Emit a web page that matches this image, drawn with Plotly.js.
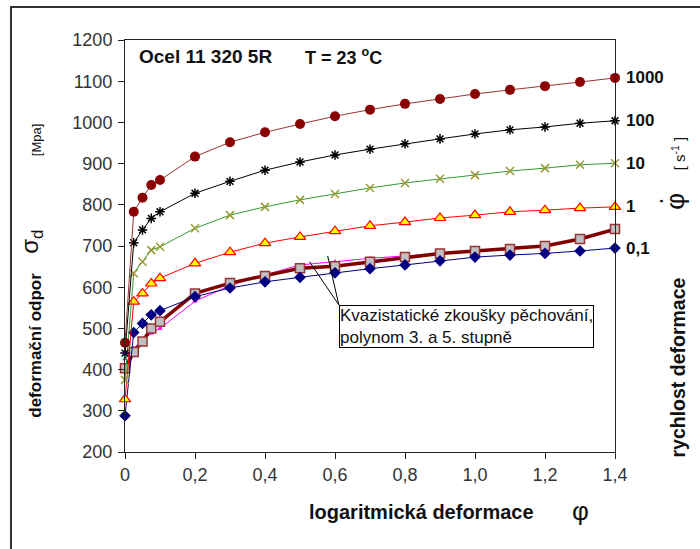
<!DOCTYPE html>
<html>
<head>
<meta charset="utf-8">
<script src="https://cdn.plot.ly/plotly-3.0.1.min.js"></script>
<style>
  html, body { margin: 0; padding: 0; background: #fff; }
  #chart { width: 700px; height: 549px; }
</style>
</head>
<body>
<div id="chart"></div>
<script>
// logarithmic strain (x) shared by all series
const phi = [0, 0.025, 0.05, 0.075, 0.1, 0.2, 0.3, 0.4, 0.5, 0.6, 0.7, 0.8, 0.9, 1.0, 1.1, 1.2, 1.3, 1.4];

// flow stress [MPa] for each strain rate [1/s]
const rate1000 = [465, 783, 817, 848, 860, 917, 952, 976, 996, 1015, 1031, 1045, 1057, 1069, 1079, 1088, 1098, 1108];
const rate100  = [440, 708, 739, 767, 783, 828, 857, 884, 904, 921, 935, 948, 960, 972, 982, 989, 998, 1004];
const rate10   = [375, 634, 662, 690, 698, 743, 775, 795, 812, 826, 841, 853, 863, 872, 882, 889, 897, 901];
const rate1    = [328, 565, 585, 609, 622, 658, 685, 707, 722, 736, 749, 758, 768, 775, 783, 787, 792, 795];
const rate01   = [288, 490, 512, 533, 543, 577, 598, 613, 624, 635, 645, 654, 664, 673, 678, 682, 688, 695];

// quasi-static upsetting tests and polynomial fit
const quasiStatic = [403, 443, 468, 500, 516, 585, 610, 627, 646, 651, 662, 673, 682, 688, 693, 700, 717, 741];
const polyFit     = [426, 452, 472, 488, 500, 566, 604, 630, 654, 662, 670, 676, 682, 687, 692, 700, 716, 738];

const rateLabels = ['1000', '100', '10', '1', '0,1'];
const xTickVals = [0, 0.2, 0.4, 0.6, 0.8, 1.0, 1.2, 1.4];
const xTickText = ['0', '0,2', '0,4', '0,6', '0,8', '1,0', '1,2', '1,4'];

const FONT = 'Liberation Sans, Arial, sans-serif';

const traces = [
  { x: phi, y: polyFit, mode: 'lines+markers',
    line: { color: '#FF00FF', width: 1 },
    marker: { symbol: 'triangle-up', size: 5, color: '#FF00FF' } },
  { x: phi, y: quasiStatic, mode: 'lines+markers',
    line: { color: '#800000', width: 3.5 },
    marker: { symbol: 'square', size: 9, color: '#C0C0C0', line: { color: '#993333', width: 1.5 } } },
  { x: phi, y: rate01, mode: 'lines+markers',
    line: { color: '#000080', width: 1 },
    marker: { symbol: 'diamond', size: 9, color: '#000080' } },
  { x: phi, y: rate1, mode: 'lines+markers',
    line: { color: '#FF0000', width: 1 },
    marker: { symbol: 'triangle-up', size: 10, color: '#FFFF00', line: { color: '#FF0000', width: 1.2 } } },
  { x: phi, y: rate10, mode: 'lines+markers',
    line: { color: '#339933', width: 1 },
    marker: { symbol: 'x-thin-open', size: 8, color: '#999933', line: { color: '#999933', width: 1.5 } } },
  { x: phi, y: rate100, mode: 'lines+markers',
    line: { color: '#000000', width: 1 },
    marker: { symbol: 'asterisk-open', size: 8, color: '#000000', line: { color: '#000000', width: 1.5 } } },
  { x: phi, y: rate1000, mode: 'lines+markers',
    line: { color: '#993333', width: 1 },
    marker: { symbol: 'circle', size: 10, color: '#8B0000' } }
].map(t => Object.assign(t, { type: 'scatter', cliponaxis: false, hoverinfo: 'skip' }));

// last value of each strain-rate series carries its rate label
const lastValues = [rate1000, rate100, rate10, rate1, rate01].map(s => s[s.length - 1]);
const rateAnnotations = rateLabels.map((txt, i) => ({
  x: phi[phi.length - 1], y: lastValues[i], xref: 'x', yref: 'y',
  text: '<b>' + txt + '</b>', showarrow: false, xanchor: 'left', yanchor: 'middle', xshift: 9,
  font: { family: FONT, size: 17, color: '#111' }
}));

// helper for free text placed in paper coordinates
function label(x, y, text, size, angle) {
  return { xref: 'paper', yref: 'paper', x: x, y: y, xanchor: 'center', yanchor: 'middle',
    text: text, showarrow: false, textangle: angle || 0,
    font: { family: FONT, size: size, color: '#111' } };
}

const annotations = rateAnnotations.concat([
  // heading inside the plot
  { xref: 'paper', yref: 'paper', x: 0.0245, y: 0.961, xanchor: 'left', yanchor: 'middle',
    text: '<b>Ocel 11 320 5R</b>', showarrow: false,
    font: { family: FONT, size: 19, color: '#111' } },
  { xref: 'paper', yref: 'paper', x: 0.363, y: 0.961, xanchor: 'left', yanchor: 'middle',
    text: '<b>T = 23 <sup>o</sup>C</b>', showarrow: false,
    font: { family: FONT, size: 18, color: '#111' } },
  // callout box
  { xref: 'x', yref: 'y', x: 0.611, y: 557, xanchor: 'left', yanchor: 'top',
    text: 'Kvazistatické zkoušky pěchování,<br>polynom 3. a 5. stupně', align: 'left',
    showarrow: false, bgcolor: '#fff', bordercolor: '#000', borderwidth: 1, borderpad: 0,
    font: { family: FONT, size: 17, color: '#111' } },
  // left axis title pieces
  label(-0.1816, 0.258, '<b>deformační odpor</b>', 17, -90),
  label(-0.19, 0.51, 'σ<sub>d</sub>', 24, -90),
  label(-0.1816, 0.757, '[Mpa]', 13, -90),
  // bottom axis title pieces
  label(0.606, -0.1456, '<b>logaritmická deformace</b>', 20),
  label(0.9286, -0.143, 'φ', 26),
  // right axis title pieces
  label(1.1286, 0.205, '<b>rychlost deformace</b>', 19.5, -90),
  label(1.1224, 0.61, 'φ', 26, -90),
  label(1.096, 0.61, '•', 10, -90),
  label(1.1286, 0.725, '[ s<sup>-1</sup> ]', 15, -90)
]);

const shapes = [
  // callout leaders
  { type: 'line', xref: 'x', yref: 'y', x0: 0.611, y0: 557, x1: 0.527, y1: 662,
    line: { color: '#000', width: 1 } },
  { type: 'line', xref: 'x', yref: 'y', x0: 0.611, y0: 557, x1: 0.579, y1: 676,
    line: { color: '#000', width: 1 } },
  // outer chart frame
  { type: 'path', xref: 'paper', yref: 'paper',
    path: 'M -0.2327 -0.3 L -0.2327 1.080 L 1.2 1.080',
    line: { color: '#333', width: 2 } }
];

const layout = {
  width: 700, height: 549,
  margin: { l: 125, r: 85, t: 40, b: 97 },
  paper_bgcolor: '#fff', plot_bgcolor: '#fff',
  showlegend: false,
  font: { family: FONT, color: '#222' },
  xaxis: {
    range: [0, 1.4], tickvals: xTickVals, ticktext: xTickText,
    showgrid: false, zeroline: false,
    showline: true, mirror: true, linecolor: '#222', linewidth: 1,
    ticks: 'outside', ticklen: 6, tickcolor: '#222',
    tickfont: { family: FONT, size: 18, color: '#333' }
  },
  yaxis: {
    range: [200, 1200], dtick: 100, tick0: 200,
    showgrid: false, zeroline: false,
    showline: true, mirror: true, linecolor: '#222', linewidth: 1,
    ticks: 'outside', ticklen: 6, tickcolor: '#222',
    ticklabelstandoff: 2,
    tickfont: { family: FONT, size: 18, color: '#333' }
  },
  annotations: annotations,
  shapes: shapes
};

Plotly.newPlot('chart', traces, layout, { staticPlot: true, displayModeBar: false });
</script>
</body>
</html>
